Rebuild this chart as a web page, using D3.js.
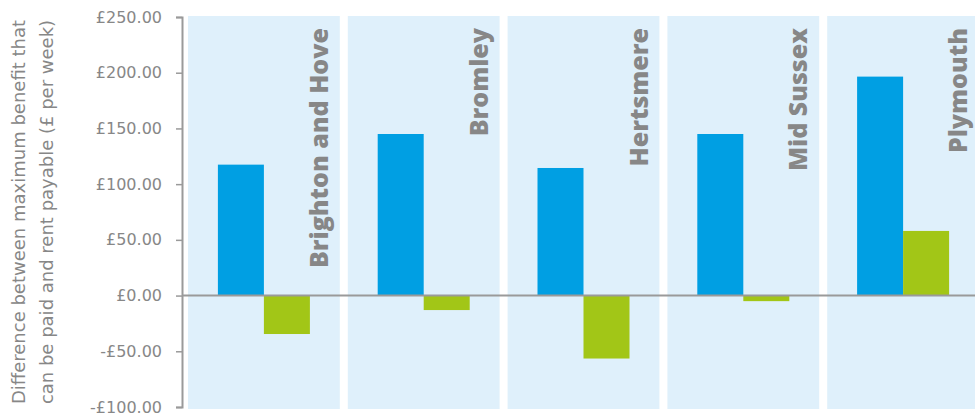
<!DOCTYPE html>
<html>
<head>
<meta charset="utf-8">
<script src="https://cdn.jsdelivr.net/npm/d3@7"></script>
<style>
  body { margin: 0; background: #fff; }
  text { font-family: "DejaVu Sans", sans-serif; }
</style>
</head>
<body>
<div id="chart"></div>
<script>
const councils = ["Brighton and Hove", "Bromley", "Hertsmere", "Mid Sussex", "Plymouth"];
const seriesKeys = ["first", "second"];
const firstValues = [117.5, 145, 114.5, 145, 196.5];
const secondValues = [-34.5, -13, -56.5, -5, 58];
const yTicks = [-100, -50, 0, 50, 100, 150, 200, 250];
const yTitle = ["Difference between maximum benefit that", "can be paid and rent payable (£ per week)"];

const fullWidth = 975;
const fullHeight = 414;
const margin = { top: 17, right: -8, bottom: 7, left: 182 };
const height = fullHeight - margin.bottom;

const colors = { first: "#009fe3", second: "#a2c617" };
const grey = "#9a9a9a";
const textGrey = "#878787";

const svg = d3.select('#chart')
  .append('svg')
  .attr('width', fullWidth)
  .attr('height', fullHeight);

const rows = councils.map((c, i) => ({ council: c, first: firstValues[i], second: secondValues[i] }));

const xScale = d3.scaleBand()
  .domain(councils)
  .range([184, fullWidth - margin.right]);

const xInner = d3.scaleBand()
  .domain(seriesKeys)
  .range([-46, 46]);

const yScale = d3.scaleLinear()
  .domain([-100, 250])
  .range([height, margin.top]);

// light blue panels behind each council
svg.append('g')
  .selectAll('rect')
  .data(councils)
  .join('rect')
  .attr('x', d => xScale(d) + 4)
  .attr('y', yScale(250) - 1)
  .attr('width', xScale.bandwidth() - 8)
  .attr('height', yScale(-100) - yScale(250) + 3)
  .attr('fill', '#dff0fb');

// bars
const groups = svg.append('g')
  .selectAll('g')
  .data(rows)
  .join('g')
  .attr('transform', d => `translate(${xScale(d.council) + xScale.bandwidth() / 2}, 0)`);

groups.selectAll('rect')
  .data(d => seriesKeys.map(k => ({ key: k, value: d[k] })))
  .join('rect')
  .attr('x', d => xInner(d.key))
  .attr('width', xInner.bandwidth())
  .attr('y', d => yScale(Math.max(0, d.value)))
  .attr('height', d => Math.abs(yScale(d.value) - yScale(0)))
  .attr('fill', d => colors[d.key]);

// council names, rotated
groups.append('text')
  .attr('transform', 'translate(64, 28) rotate(-90)')
  .attr('text-anchor', 'end')
  .style('font-family', '"Open Sans", sans-serif')
  .style('font-weight', 800)
  .style('font-size', '25px')
  .attr('fill', textGrey)
  .text(d => d.council);

// zero line
svg.append('line')
  .attr('x1', margin.left)
  .attr('x2', fullWidth)
  .attr('y1', yScale(0))
  .attr('y2', yScale(0))
  .attr('stroke', grey)
  .attr('stroke-width', 2);

// y axis
const yAxis = d3.axisLeft(yScale)
  .tickValues(yTicks)
  .tickSize(6)
  .tickPadding(14)
  .tickFormat(d => (d < 0 ? '-£' : '£') + Math.abs(d).toFixed(2));

const yg = svg.append('g')
  .attr('id', 'y-axis')
  .attr('transform', `translate(${margin.left}, 0)`)
  .call(yAxis);

yg.select('.domain').attr('stroke', grey).attr('stroke-width', 2);
yg.selectAll('.tick line').attr('stroke', grey).attr('stroke-width', 1.5);
yg.selectAll('.tick text')
  .attr('fill', textGrey)
  .style('font-size', '16px')
  .style('font-family', '"DejaVu Sans", sans-serif');

// y title, two lines
svg.append('text')
  .attr('transform', `translate(25, ${(yScale(250) + yScale(-100)) / 2}) rotate(-90)`)
  .attr('text-anchor', 'middle')
  .attr('fill', textGrey)
  .style('font-size', '18px')
  .selectAll('tspan')
  .data(yTitle)
  .join('tspan')
  .attr('x', 0)
  .attr('dy', (d, i) => i === 0 ? 0 : 28)
  .text(d => d);
</script>
</body>
</html>
